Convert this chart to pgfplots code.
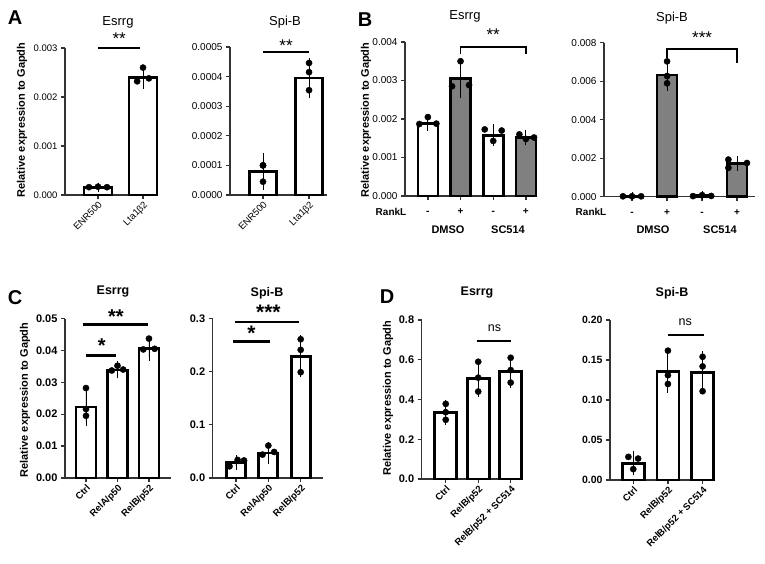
\documentclass[border=0pt]{standalone}
\usepackage{fontspec}
\setmainfont{Liberation Sans}
\usepackage{pgfplots}
\pgfplotsset{compat=1.18}

\newcommand{\fs}[1]{\fontsize{#1}{#1}\selectfont}

\tikzset{
  sig/.style={line width=2pt, black},
  % asterisks: node placed at the visual centre of the glyphs
  star/.style={anchor=base, font=\fs{#1}, yshift=-0.58*#1pt, inner sep=0pt},
  bstar/.style={anchor=base, font=\bfseries\fs{#1}, yshift=-0.58*#1pt, inner sep=0pt},
}
\pgfplotsset{
  gp/.style={
    scale only axis, clip=false, anchor=south west,
    axis lines=left,
    axis line style={-, line width=1.3pt, black!80},
    tick style={line width=1.3pt, black!80},
    tick align=outside, major tick length=4pt,
    ymin=0, enlargelimits=false, scaled y ticks=false,
  },
  rot/.style={xticklabel style={rotate=45, anchor=north east, inner sep=1pt}},
  gpbar/.style={ybar, bar shift=0pt, draw=black, line width=2.7pt,
    error bars/y dir=both, error bars/y explicit,
    error bars/error bar style={line width=0.9pt, black},
    error bars/error mark options={line width=0.9pt, mark size=4pt, black}},
  dots/.style={only marks, mark=*, mark size=3.1pt, black},
}

\begin{document}
\begin{tikzpicture}
\useasboundingbox (0,0) rectangle (765pt,563pt);

% ---------- panel letters, titles, y labels
\node[font=\bfseries\fs{20}] at (15pt,545pt) {A};
\node[font=\bfseries\fs{20}] at (365pt,543pt) {B};
\node[font=\bfseries\fs{20}] at (15pt,265pt) {C};
\node[font=\bfseries\fs{20}] at (387pt,266pt) {D};

\node[font=\fs{13}] at (118pt,541pt) {Esrrg};
\node[font=\fs{13}] at (285pt,541pt) {Spi-B};
\node[font=\fs{13}] at (465pt,547pt) {Esrrg};
\node[font=\fs{13}] at (672pt,545pt) {Spi-B};
\node[font=\bfseries\fs{12.5}] at (113pt,271pt) {Esrrg};
\node[font=\bfseries\fs{12.5}] at (267pt,270pt) {Spi-B};
\node[font=\bfseries\fs{12.5}] at (477pt,270pt) {Esrrg};
\node[font=\bfseries\fs{12.5}] at (672pt,270pt) {Spi-B};

\node[rotate=90, font=\bfseries\fs{11}] at (22pt,443pt) {Relative expression to Gapdh};
\node[rotate=90, font=\bfseries\fs{11}] at (366pt,443pt) {Relative expression to Gapdh};
\node[rotate=90, font=\bfseries\fs{11}] at (25pt,163pt) {Relative expression to Gapdh};
\node[rotate=90, font=\bfseries\fs{11}] at (388pt,165pt) {Relative expression to Gapdh};

% ---------- A: Esrrg
\begin{axis}[gp, rot, at={(65pt,368pt)}, width=93pt, height=147pt,
  xmin=-0.733, xmax=1.333, ymax=0.003,
  xtick={0,1}, xticklabels={ENR500,Lta1β2},
  ytick={0,0.001,0.002,0.003}, yticklabels={0.000,0.001,0.002,0.003},
  yticklabel style={font=\fs{9.5}}, xticklabel style={font=\fs{9.5}}]
\addplot[gpbar, bar width=28pt, fill=white] coordinates {
  (0,0.00016) +- (0,0.00001)
  (1,0.0024) +- (0,0.00015)
};
\addplot[dots] coordinates {
  (-0.2,0.00016) (0,0.00017) (0.2,0.00016)
  (0.87,0.00232) (1,0.0026) (1.13,0.00238)
};
\draw[sig] (axis cs:0,0.00299) -- (axis cs:0.94,0.00299);
\node[star=17] at (axis cs:0.47,0.00328) {**};
\end{axis}

% ---------- A: Spi-B
\begin{axis}[gp, rot, at={(230pt,368pt)}, width=97pt, height=148pt,
  xmin=-0.717, xmax=1.39, ymax=0.0005,
  xtick={0,1}, xticklabels={ENR500,Lta1β2},
  ytick={0,0.0001,0.0002,0.0003,0.0004,0.0005},
  yticklabels={0.0000,0.0001,0.0002,0.0003,0.0004,0.0005},
  yticklabel style={font=\fs{10}}, xticklabel style={font=\fs{9.5}}]
\addplot[gpbar, bar width=27pt, fill=white] coordinates {
  (0,0.00008) +- (0,0.00005)
  (1,0.000395) +- (0,0.000053)
};
\addplot[dots] coordinates {
  (0,0.0001) (0,0.000045) (0,0.0001)
  (1,0.000446) (1,0.000415) (1,0.000354)
};
\draw[sig] (axis cs:0,0.000482) -- (axis cs:1,0.000482);
\node[star=17] at (axis cs:0.5,0.000517) {**};
\end{axis}

% ---------- B: Esrrg
\begin{axis}[gp, at={(405pt,367pt)}, width=132pt, height=154pt,
  xmin=-0.7, xmax=3.34, ymax=0.004,
  xtick={0,1,2,3}, xticklabels={-,+,-,+},
  xticklabel style={font=\bfseries\fs{10}, anchor=base, yshift=-15pt},
  ytick={0,0.001,0.002,0.003,0.004}, yticklabels={0.000,0.001,0.002,0.003,0.004},
  yticklabel style={font=\fs{10}}]
\addplot[gpbar, bar width=20pt, fill=white] coordinates {
  (0,0.00189) +- (0,0.0001)
  (2,0.00158) +- (0,0.00018)
};
\addplot[gpbar, bar width=20pt, fill=gray] coordinates {
  (1,0.00305) +- (0,0.0004)
  (3,0.00152) +- (0,0.0001)
};
\addplot[dots] coordinates {
  (-0.26,0.00187) (0,0.00205) (0.26,0.00188)
  (0.74,0.00285) (1,0.0035) (1.26,0.00288)
  (1.74,0.00173) (2,0.00143) (2.26,0.0017)
  (2.8,0.0016) (3,0.00148) (3.25,0.00152)
};
\draw[line width=1.5pt] (axis cs:1,0.0037) |- (axis cs:3,0.00387) -- (axis cs:3,0.0037);
\node[star=17] at (axis cs:2,0.00429) {**};
\end{axis}
\node[font=\bfseries\fs{10}] at (391pt,351pt) {RankL};
\node[font=\bfseries\fs{11}] at (448pt,333pt) {DMSO};
\node[font=\bfseries\fs{11}] at (508pt,333pt) {SC514};

% ---------- B: Spi-B
\begin{axis}[gp, at={(604pt,366.3pt)}, width=151pt, height=154pt,
  xmin=-0.8, xmax=3.51, ymax=0.008,
  xtick={0,1,2,3}, xticklabels={-,+,-,+},
  xticklabel style={font=\bfseries\fs{10}, anchor=base, yshift=-15pt},
  ytick={0,0.002,0.004,0.006,0.008}, yticklabels={0.000,0.002,0.004,0.006,0.008},
  yticklabel style={font=\fs{10}}]
\addplot[gpbar, bar width=20pt, fill=white] coordinates {
  (0,0.00002) +- (0,0)
  (2,0.00005) +- (0,0.00002)
};
\addplot[gpbar, bar width=20pt, fill=gray] coordinates {
  (1,0.00632) +- (0,0.0006)
  (3,0.00173) +- (0,0.0002)
};
\addplot[dots] coordinates {
  (-0.26,0.00002) (0,0.00002) (0.26,0.00002)
  (1,0.00703) (1,0.00627) (1,0.00589)
  (1.74,0.00003) (2,0.00008) (2.26,0.00004)
  (2.75,0.00193) (2.75,0.0015) (3.28,0.00175)
};
\draw[line width=1.5pt] (axis cs:1,0.0072) |- (axis cs:3,0.00767) -- (axis cs:3,0.00696);
\node[star=17] at (axis cs:2,0.00845) {***};
\end{axis}
\node[font=\bfseries\fs{10}] at (591pt,351pt) {RankL};
\node[font=\bfseries\fs{11}] at (653pt,333pt) {DMSO};
\node[font=\bfseries\fs{11}] at (720pt,333pt) {SC514};

% ---------- C: Esrrg
\begin{axis}[gp, rot, at={(65pt,85pt)}, width=106pt, height=159.5pt,
  xmin=-0.667, xmax=2.7, ymax=0.05,
  xtick={0,1,2}, xticklabels={Ctrl,RelA/p50,RelB/p52},
  xticklabel style={font=\bfseries\fs{9.5}},
  ytick={0,0.01,0.02,0.03,0.04,0.05}, yticklabels={0.00,0.01,0.02,0.03,0.04,0.05},
  yticklabel style={font=\bfseries\fs{11}}]
\addplot[gpbar, bar width=20pt, fill=white] coordinates {
  (0,0.0223) +- (0,0.0047)
  (1,0.0339) +- (0,0.0014)
  (2,0.0405) +- (0,0.0025)
};
\addplot[dots] coordinates {
  (0,0.0282) (0,0.0216) (0,0.0195)
  (0.82,0.0337) (1,0.0352) (1.18,0.034)
  (1.82,0.0403) (2,0.0437) (2.18,0.0405)
};
\draw[sig, line width=2.3pt] (axis cs:-0.1,0.0481) -- (axis cs:1.97,0.0481);
\node[bstar=20] at (axis cs:0.95,0.0521) {**};
\draw[sig, line width=2.3pt] (axis cs:0,0.0384) -- (axis cs:0.95,0.0384);
\node[bstar=20] at (axis cs:0.5,0.0429) {*};
\end{axis}

% ---------- C: Spi-B
\begin{axis}[gp, rot, at={(212.7pt,85pt)}, width=110pt, height=159.5pt,
  xmin=-0.72, xmax=2.68, ymax=0.3,
  xtick={0,1,2}, xticklabels={Ctrl,RelA/p50,RelB/p52},
  xticklabel style={font=\bfseries\fs{9.5}},
  ytick={0,0.1,0.2,0.3}, yticklabels={0.0,0.1,0.2,0.3},
  yticklabel style={font=\bfseries\fs{11}}]
\addplot[gpbar, bar width=19pt, fill=white] coordinates {
  (0,0.029) +- (0,0.006)
  (1,0.047) +- (0,0.013)
  (2,0.229) +- (0,0.032)
};
\addplot[dots] coordinates {
  (-0.2,0.022) (0.05,0.034) (0.25,0.033)
  (0.82,0.044) (1,0.061) (1.18,0.049)
  (2,0.261) (2,0.241) (2,0.199)
};
\draw[sig, line width=2.3pt] (axis cs:-0.03,0.294) -- (axis cs:1.94,0.294);
\node[bstar=21] at (axis cs:1,0.3216) {***};
\draw[sig, line width=2.3pt] (axis cs:-0.1,0.257) -- (axis cs:1.05,0.257);
\node[bstar=21] at (axis cs:0.48,0.282) {*};
\end{axis}

% ---------- D: Esrrg
\begin{axis}[gp, rot, at={(421.7pt,84pt)}, width=101pt, height=159pt,
  xmin=-0.74, xmax=2.37, ymax=0.8,
  xtick={0,1,2}, xticklabels={Ctrl,RelB/p52,RelB/p52 + SC514},
  xticklabel style={font=\bfseries\fs{9.5}},
  ytick={0,0.2,0.4,0.6,0.8}, yticklabels={0.0,0.2,0.4,0.6,0.8},
  yticklabel style={font=\bfseries\fs{11}}]
\addplot[gpbar, bar width=22pt, fill=white] coordinates {
  (0,0.333) +- (0,0.042)
  (1,0.507) +- (0,0.075)
  (2,0.54) +- (0,0.062)
};
\addplot[dots] coordinates {
  (0,0.378) (0,0.336) (0,0.298)
  (1,0.59) (1,0.51) (1,0.44)
  (2,0.61) (2,0.548) (2,0.485)
};
\draw[sig, line width=2.3pt] (axis cs:0.95,0.696) -- (axis cs:2.01,0.696);
\node[font=\fs{12.5}] at (axis cs:1.5,0.761) {ns};
\end{axis}

% ---------- D: Spi-B
\begin{axis}[gp, rot, at={(610pt,83pt)}, width=103pt, height=160pt,
  xmin=-0.67, xmax=2.3, ymax=0.2,
  xtick={0,1,2}, xticklabels={Ctrl,RelB/p52,RelB/p52 + SC514},
  xticklabel style={font=\bfseries\fs{9.5}},
  ytick={0,0.05,0.1,0.15,0.2}, yticklabels={0.00,0.05,0.10,0.15,0.20},
  yticklabel style={font=\bfseries\fs{10.5}}]
\addplot[gpbar, bar width=22pt, fill=white] coordinates {
  (0,0.021) +- (0,0.01)
  (1,0.136) +- (0,0.022)
  (2,0.134) +- (0,0.022)
};
\addplot[dots] coordinates {
  (-0.14,0.0289) (0.14,0.0268) (0,0.0136)
  (1,0.1617) (1,0.131) (1,0.12)
  (2,0.154) (2,0.142) (2,0.111)
};
\draw[sig, line width=2.3pt] (axis cs:1,0.181) -- (axis cs:2.03,0.181);
\node[font=\fs{12.5}] at (axis cs:1.5,0.1975) {ns};
\end{axis}
\end{tikzpicture}
\end{document}
